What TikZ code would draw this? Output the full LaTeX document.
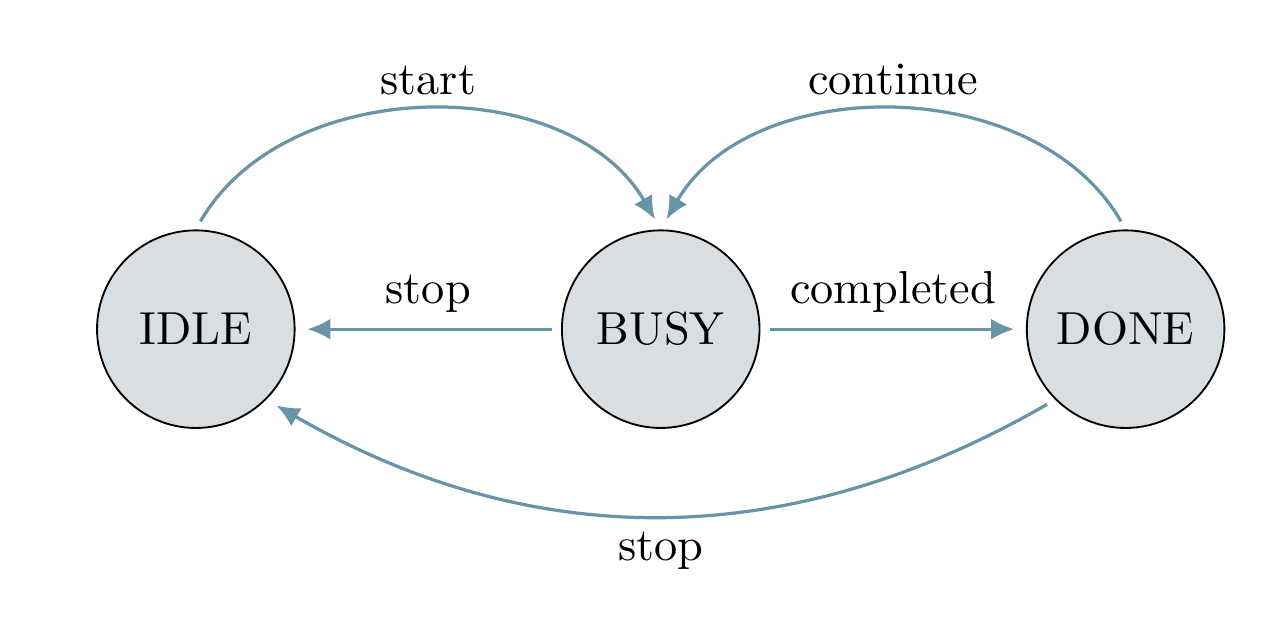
\documentclass[tikz,border=0pt]{standalone}
\usetikzlibrary{positioning,arrows.meta}
\definecolor{edgeblue}{RGB}{104,148,168}
\definecolor{stategray}{RGB}{217,222,226}

\begin{document}
\begin{tikzpicture}[line width=0.7pt,
        every edge/.style={draw=edgeblue,-{Latex[length=5pt,width=4.5pt]},
                        shorten <=2pt,shorten >=2.5pt}]
        \useasboundingbox (-42.3pt,-62.2pt) rectangle (234.6pt,71.1pt);
        \begin{scope}[every node/.style={circle,thin,draw,fill=stategray,
                        minimum size=1.5cm}]
            \node (idle) {IDLE};
            \node (busy) [right=2.015cm of idle] {BUSY};
            \node (done) [right=2.015cm of busy] {DONE};
        \end{scope}

        \path (idle.north) edge [bend left=60] node[above] {start} (busy.north);
        \path (done.north) edge [bend right=60] node[above] {continue} (busy.north);
        \path (busy) edge node[above] {stop} (idle);
        \path (busy) edge node[above] {completed} (done);
        \path (done.south west) edge [bend left=30] node[below] {stop} (idle.south east);
    \end{tikzpicture}
\end{document}
